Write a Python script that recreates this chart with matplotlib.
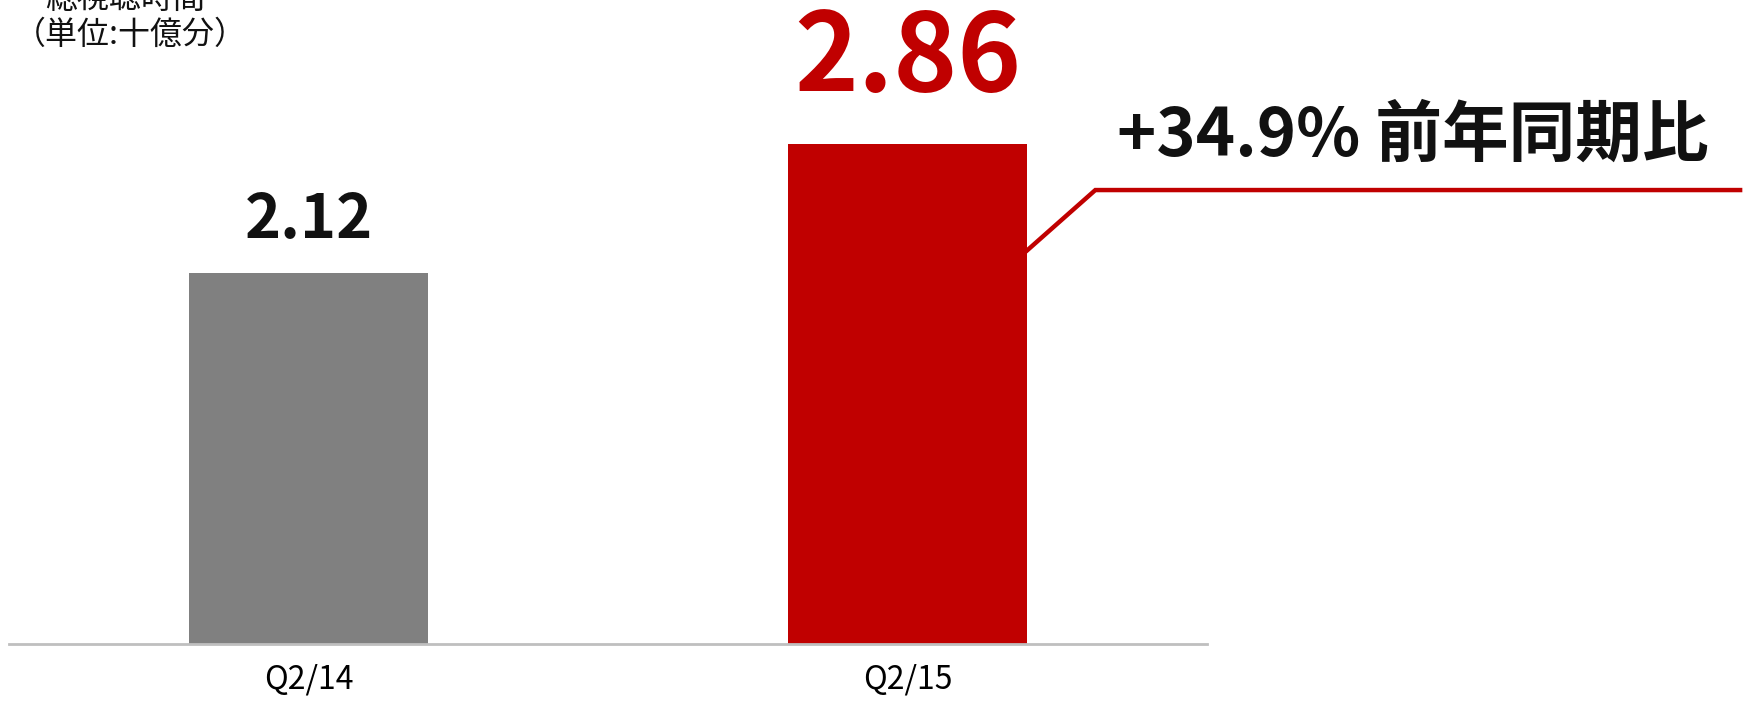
import matplotlib
matplotlib.use('Agg')
import matplotlib.pyplot as plt

plt.rcParams['font.family'] = ['Noto Sans CJK JP', 'DejaVu Sans']

QUARTERS: list[str] = ['Q2/14', 'Q2/15']
MINUTES_BN: list[float] = [2.12, 2.86]
BAR_COLORS: list[str] = ['#808080', '#C00000']
YOY_TEXT: str = '+34.9% 前年同期比'
TITLE_LINES: list[str] = ['総視聴時間', '（単位:十億分）']

fig = plt.figure(figsize=(17.52, 7.02), dpi=100)
ax = fig.add_axes([9 / 1752, 58 / 702, 1198 / 1752, 644 / 702])

xs = range(len(QUARTERS))
ax.bar(xs, MINUTES_BN, width=0.4, color=BAR_COLORS, zorder=2)
ax.set_xlim(-0.5, 1.5)
ax.set_ylim(0, 3.68)

for s in ['top', 'right', 'left']:
    ax.spines[s].set_visible(False)
ax.spines['bottom'].set_color('#BFBFBF')
ax.spines['bottom'].set_linewidth(2)
ax.set_yticks([])
ax.set_xticks(list(xs))
ax.set_xticklabels(QUARTERS, fontsize=23)
ax.tick_params(axis='x', length=0, pad=14)

# value labels: last quarter highlighted big and red
label_sizes = [44, 78]
label_colors = ['#111111', '#C00000']
label_offsets = [38, 60]
for x, v, fs, c, off in zip(xs, MINUTES_BN, label_sizes, label_colors, label_offsets):
    ax.annotate(f'{v:.2f}', (x, v), xytext=(0, off), textcoords='offset points',
                ha='center', va='center', fontsize=fs, fontweight='bold', color=c)

# callout from the latest bar to the growth text
x_edge = 1 + 0.2
ax.plot([x_edge, 1.3136, 2.39], [2.25, 2.594, 2.594], color='#C00000', lw=3.2,
        clip_on=False, solid_joinstyle='miter', zorder=3)
ax.text(1.35, 2.90, YOY_TEXT, ha='left', va='center', fontsize=48,
        fontweight='bold', color='#111111', clip_on=False)

fig.text(45 / 1752, 1 + 1 / 702, TITLE_LINES[0], ha='left', va='center', fontsize=23, color='#111111')
fig.text(14 / 1752, 1 - 35 / 702, TITLE_LINES[1], ha='left', va='center', fontsize=23, color='#111111')

fig.savefig('out.png', dpi=100)
